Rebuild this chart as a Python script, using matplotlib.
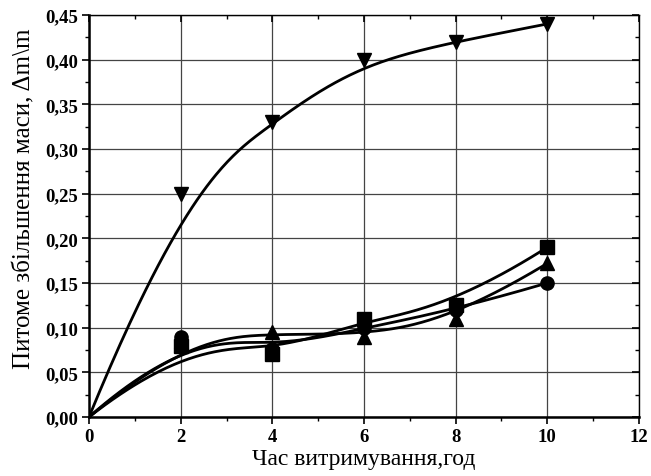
import numpy as np
import matplotlib
matplotlib.use("Agg")
import matplotlib.pyplot as plt
from matplotlib.ticker import MultipleLocator, FuncFormatter

# data
x = [0, 2, 4, 6, 8, 10]
s_square = [0.0, 0.080, 0.070, 0.110, 0.125, 0.190]
s_circle = [0.0, 0.090, 0.076, 0.100, 0.120, 0.150]
s_tri_up = [0.0, 0.085, 0.095, 0.090, 0.110, 0.172]
s_tri_down = [0.0, 0.250, 0.330, 0.400, 0.420, 0.440]

xlabel = "Час витримування,год"
ylabel = "Питоме збільшення маси, Δm\\m"


def bspline(px, py, k=3, num=300):
    px = np.asarray(px, float)
    py = np.asarray(py, float)
    n = len(px)
    inner = np.linspace(0, 1, n - k + 1)[1:-1]
    t = np.concatenate([np.zeros(k + 1), inner, np.ones(k + 1)])
    u = np.linspace(0, 1, num)
    u[-1] = 1 - 1e-12

    def basis(i, p, uu):
        if p == 0:
            return np.where((t[i] <= uu) & (uu < t[i + 1]), 1.0, 0.0)
        a = 0.0
        if t[i + p] != t[i]:
            a = (uu - t[i]) / (t[i + p] - t[i]) * basis(i, p - 1, uu)
        b = 0.0
        if t[i + p + 1] != t[i + 1]:
            b = (t[i + p + 1] - uu) / (t[i + p + 1] - t[i + 1]) * basis(i + 1, p - 1, uu)
        return a + b

    B = np.array([basis(i, k, u) for i in range(n)])
    return B.T @ px, B.T @ py


plt.rcParams['font.family'] = ['Liberation Serif', 'DejaVu Serif']
fig = plt.figure(figsize=(6.51, 4.77), dpi=100)
ax = fig.add_axes([89 / 651, 59 / 477, 550 / 651, 402 / 477])

series = [(s_square, 's'), (s_circle, 'o'), (s_tri_up, '^'), (s_tri_down, 'v')]
for ys, m in series:
    cx, cy = bspline(x, ys)
    ax.plot(cx, cy, color='black', lw=2.0, zorder=3)
    ax.plot(x[1:], ys[1:], linestyle='none', marker=m, color='black',
            markersize=9.5, zorder=4)

ax.set_xlim(0, 12)
ax.set_ylim(0, 0.45)
ax.xaxis.set_major_locator(MultipleLocator(2))
ax.xaxis.set_minor_locator(MultipleLocator(1))
ax.yaxis.set_major_locator(MultipleLocator(0.05))
ax.yaxis.set_minor_locator(MultipleLocator(0.025))
ax.yaxis.set_major_formatter(FuncFormatter(lambda v, p: f"{v:.2f}".replace('.', ',')))

ax.grid(True, which='major', color='#444444', lw=0.9, zorder=1)
ax.tick_params(axis='both', which='major', direction='out', length=5, width=1.2,
               labelsize=13.5, pad=3)
ax.tick_params(axis='both', which='minor', direction='out', length=3, width=1.0)
for lab in ax.get_xticklabels() + ax.get_yticklabels():
    lab.set_fontweight('bold')
for sp in ax.spines.values():
    sp.set_linewidth(1.0)
ax.spines['bottom'].set_linewidth(1.8)
ax.spines['left'].set_linewidth(1.8)

# top/right ticks inward
ax.tick_params(axis='x', which='both', top=True, labeltop=False)
ax.tick_params(axis='y', which='both', right=True, labelright=False)
for t in ax.xaxis.get_major_ticks() + ax.xaxis.get_minor_ticks():
    t.tick2line.set_marker(3)
for t in ax.yaxis.get_major_ticks() + ax.yaxis.get_minor_ticks():
    t.tick2line.set_marker(0)

ax.set_xlabel(xlabel, fontsize=17, labelpad=2)
ax.set_ylabel(ylabel, fontsize=18)
ax.yaxis.set_label_coords(-0.098, 0.545)

fig.savefig("out.png", dpi=100)
